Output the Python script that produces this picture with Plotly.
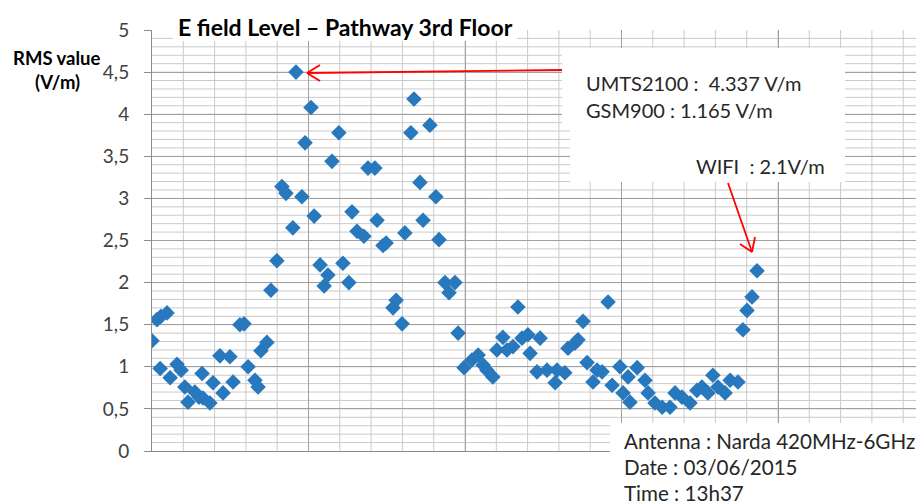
import plotly.graph_objects as go

# ---- data ----
sample_pos = [0.0, 1.6, 2.6, 2.9, 4.8, 5.8, 8.0, 9.3, 10.5, 11.5, 13.7, 15.0, 16.0, 16.3, 18.5,
              19.5, 21.7, 22.7, 24.9, 25.9, 28.1, 29.4, 30.7, 32.9, 33.9, 34.8, 36.7, 38.0, 39.9,
              41.5, 42.8, 45.0, 46.0, 47.9, 48.9, 50.8, 51.8, 53.7, 55.0, 56.2, 57.5, 59.7, 61.0,
              62.9, 63.9, 65.5, 67.7, 69.0, 71.2, 71.9, 73.8, 74.8, 77.0, 78.0, 79.9, 80.8, 82.7,
              83.7, 85.6, 86.6, 88.8, 90.7, 91.7, 93.6, 94.9, 96.8, 97.8, 99.7, 102.2, 104.2, 105.8,
              107.0, 108.9, 110.2, 112.1, 113.4, 115.3, 116.9, 118.2, 120.1, 120.8, 123.0, 124.0,
              126.2, 128.8, 129.4, 131.9, 132.9, 135.1, 136.1, 137.7, 139.0, 140.9, 142.2, 143.8,
              145.7, 147.0, 149.5, 150.5, 152.1, 152.7, 155.0, 157.5, 158.5, 160.7, 163.0, 165.5,
              167.1, 169.3, 171.9, 174.1, 175.7, 177.6, 179.2, 180.8, 183.1, 184.7, 187.2, 188.8,
              190.1, 191.7, 193.3]
rms_value = [1.31, 1.56, 0.98, 1.60, 1.64, 0.87, 1.03, 0.96, 0.76, 0.58, 0.70, 0.64, 0.92, 0.63, 0.57,
             0.81, 1.13, 0.69, 1.12, 0.82, 1.50, 1.51, 1.00, 0.84, 0.76, 1.19, 1.29, 1.91, 2.26,
             3.14, 3.06, 2.65, 4.50, 3.02, 3.66, 4.08, 2.79, 2.21, 1.96, 2.09, 3.44, 3.78, 2.23,
             2.00, 2.84, 2.61, 2.55, 3.36, 3.36, 2.74, 2.44, 2.47, 1.70, 1.79, 1.51, 2.59, 3.78,
             4.18, 3.19, 2.74, 3.87, 3.02, 2.51, 2.00, 1.88, 2.00, 1.40, 0.99, 1.08, 1.14, 1.02,
             0.96, 0.88, 1.20, 1.35, 1.20, 1.24, 1.71, 1.34, 1.38, 1.16, 0.94, 1.34,
             0.96, 0.81, 0.96, 0.93, 1.22, 1.28, 1.32, 1.54, 1.05, 0.82, 0.96, 0.94,
             1.77, 0.78, 1.00, 0.69, 0.88, 0.58, 0.99, 0.84, 0.69, 0.57, 0.52, 0.52,
             0.69, 0.64, 0.57, 0.72, 0.76, 0.69, 0.90, 0.76, 0.69, 0.84, 0.82, 1.44,
             1.67, 1.83, 2.14]
y_tick_vals = [0, 0.5, 1, 1.5, 2, 2.5, 3, 3.5, 4, 4.5, 5]
y_tick_text = ["0", "0,5", "1", "1,5", "2", "2,5", "3", "3,5", "4", "4,5", "5"]

title_text = "E field Level \u2013 Pathway 3rd Floor"
y_title_lines = ["RMS value", "(V/m)"]
note_lines = ["UMTS2100 :\u00a0 4.337 V/m", "GSM900 : 1.165 V/m"]
wifi_text = "WIFI\u00a0 : 2.1V/m"
info_lines = ["Antenna : Narda 420MHz-6GHz", "Date : 03/06/2015", "Time : 13h37"]

# ---- geometry (page pixels; page body has an 8px margin) ----
OFF = 8
W, H = 924 - OFF, 504 - OFF
PLOT_L, PLOT_B, PLOT_T = 152, 451, 30          # page pixel positions
L = PLOT_L - OFF
T = PLOT_T - OFF
B = H - (PLOT_B - OFF)
R = 0
PW, PH = W - L - R, H - T - B
X_MAX = PW / 3.13


def px(x):
    return (x - PLOT_L) / PW


def py(y):
    return (PLOT_B - y) / PH


FONT = "Lato"
fig = go.Figure()
fig.add_trace(go.Scatter(
    x=sample_pos, y=rms_value, mode="markers",
    marker=dict(symbol="diamond", size=12, color="#2878BE", line=dict(width=0)),
    hoverinfo="skip"))

shapes = []
MINOR_C = "#CACACA"
# minor grid (light) below the axis grid
for k in range(1, int(X_MAX // 10) + 1):
    shapes.append(dict(type="line", xref="x", yref="paper", x0=10 * k, x1=10 * k, y0=0, y1=1,
                       line=dict(color=MINOR_C, width=1), layer="below"))
for k in range(1, 50):
    shapes.append(dict(type="line", xref="paper", yref="y", x0=0, x1=1, y0=k / 10, y1=k / 10,
                       line=dict(color=MINOR_C, width=1), layer="below"))
# white boxes behind texts
for (x0, y0, x1, y1) in [(173, 0, 517, 41), (562, 48, 845, 130), (570, 128, 845, 182),
                         (610, 423, 924, 504)]:
    shapes.append(dict(type="rect", xref="paper", yref="paper", x0=px(x0), x1=px(x1),
                       y0=py(y1), y1=py(y0), fillcolor="white", line=dict(width=0),
                       layer="above"))
# red arrows
red = dict(color="#FF0000", width=1.8)
for (x0, y0, x1, y1) in [(562, 70, 307, 73), (307, 73, 320, 65), (307, 73, 320, 81),
                         (728, 183, 752, 252), (752, 252, 740, 244), (752, 252, 755, 237)]:
    shapes.append(dict(type="line", xref="paper", yref="paper", x0=px(x0), y0=py(y0),
                       x1=px(x1), y1=py(y1), line=red, layer="above"))

ann = []


def txt(text, x, y, size, bold=False, color="#262626", xanchor="left"):
    ann.append(dict(text=("<b>%s</b>" % text) if bold else text, xref="paper", yref="paper",
                    x=px(x), y=py(y), xanchor=xanchor, yanchor="middle", showarrow=False,
                    borderpad=0, font=dict(family=FONT, size=size, color=color)))


txt(title_text, 177, 27, 23, bold=True, color="#000000")
txt(y_title_lines[0], 57, 58, 18.5, bold=True, color="#000000", xanchor="center")
txt(y_title_lines[1], 57, 82, 18.5, bold=True, color="#000000", xanchor="center")
txt(note_lines[0], 585, 83, 20)
txt(note_lines[1], 585, 110, 20)
txt(wifi_text, 695, 166, 20)
for i, t in enumerate(info_lines):
    txt(t, 623, 441 + 26 * i, 20.6)

fig.update_layout(
    width=W, height=H, margin=dict(l=L, r=R, t=T, b=B, pad=0),
    paper_bgcolor="white", plot_bgcolor="rgba(0,0,0,0)", showlegend=False,
    font=dict(family=FONT, color="#404040"),
    shapes=shapes, annotations=ann,
    xaxis=dict(range=[0, X_MAX], dtick=50, tick0=0, showticklabels=False,
               showgrid=True, gridcolor="#A0A0A0", gridwidth=1, zeroline=False,
               showline=True, linecolor="#8C8C8C", linewidth=1, ticks=""),
    yaxis=dict(range=[0, 5], tickmode="array", tickvals=y_tick_vals, ticktext=y_tick_text,
               showgrid=True, gridcolor="#A0A0A0", gridwidth=1, zeroline=False,
               showline=True, linecolor="#8C8C8C", linewidth=1,
               ticks="outside", ticklen=7, tickcolor="#8C8C8C", ticklabelstandoff=11,
               tickfont=dict(family=FONT, size=19, color="#404040")),
)

fig.write_html("out.html")
